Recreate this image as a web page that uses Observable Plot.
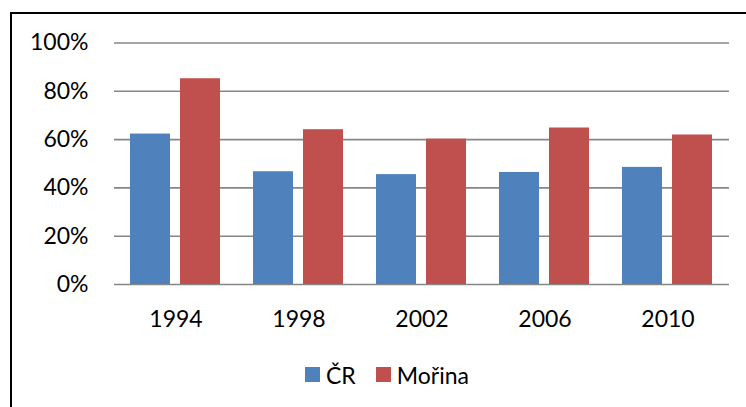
<!DOCTYPE html>
<html>
<head>
<meta charset="utf-8">
<script src="https://cdn.jsdelivr.net/npm/d3@7"></script>
<script src="https://cdn.jsdelivr.net/npm/@observablehq/plot@0.6"></script>
<style>
  html, body { margin: 0; padding: 0; background: #fff; width: 746px; height: 407px; overflow: hidden; }
  #frame { position: absolute; left: 10px; top: 12px; width: 900px; height: 600px; border-left: 2px solid #000; border-top: 2px solid #000; }
  #chart { position: absolute; left: 0; top: 0; }
  #legend { position: absolute; left: 305px; top: 358px; }
  .lg-swatch > svg { margin-right: 6px !important; }
  .lg-swatch { margin-right: 20px !important; }
</style>
</head>
<body>
<div id="frame"></div>
<div id="chart"></div>
<div id="legend"></div>
<script>
const years = ["1994", "1998", "2002", "2006", "2010"];
const seriesNames = ["ČR", "Mořina"];
const crValues = [0.623, 0.467, 0.455, 0.464, 0.485];
const morinaValues = [0.852, 0.641, 0.602, 0.648, 0.619];
const yTicks = [0, 0.2, 0.4, 0.6, 0.8, 1.0];
const colors = ["#4F81BD", "#C0504D"];

const rows = [];
years.forEach((y, i) => {
  rows.push({year: y, series: seriesNames[0], value: crValues[i]});
  rows.push({year: y, series: seriesNames[1], value: morinaValues[i]});
});

const font = {fontFamily: "Lato", fontSize: "23px", color: "#000", background: "transparent"};

const chart = Plot.plot({
  width: 746,
  height: 340,
  marginLeft: 113,
  marginRight: 17,
  marginTop: 42.5,
  marginBottom: 56,
  style: font,
  facet: {data: rows, x: "year"},
  fx: {domain: years, padding: 0, axis: "bottom", tickSize: 0, tickPadding: 26, label: null},
  x: {domain: seriesNames, paddingInner: 0.196, paddingOuter: 0.306, axis: null},
  y: {domain: [0, 1], ticks: yTicks, tickFormat: d3.format(".0%"), tickSize: 0, tickPadding: 26, label: null, grid: false},
  color: {domain: seriesNames, range: colors},
  marks: [
    Plot.ruleY(yTicks, {stroke: "#868686", strokeWidth: 1.6}),
    Plot.barY(rows, {x: "series", y: "value", fill: "series"})
  ]
});
document.getElementById("chart").appendChild(chart);

const legend = Plot.legend({
  color: {domain: seriesNames, range: colors},
  legend: "swatches",
  swatchSize: 15,
  className: "lg",
  style: font
});
document.getElementById("legend").appendChild(legend);
</script>
</body>
</html>
